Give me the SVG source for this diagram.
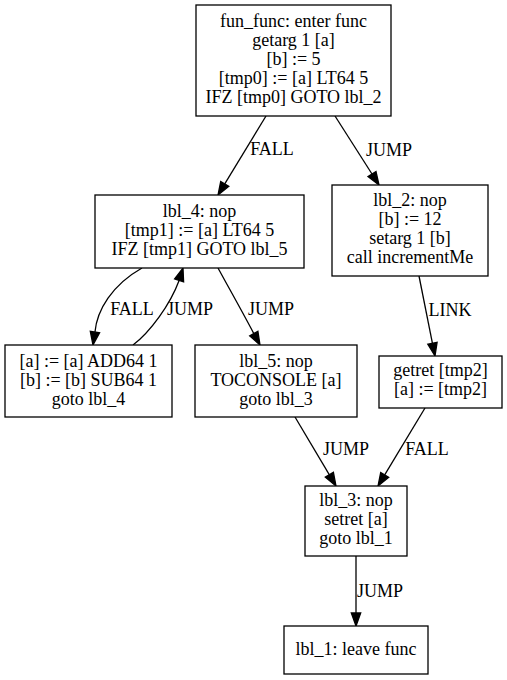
<svg xmlns="http://www.w3.org/2000/svg" width="507" height="680" viewBox="0 0 507 680">
<style>
.n rect{fill:#fff;stroke:#000;stroke-width:1.3}
text{font-family:"Liberation Serif","Times New Roman",serif;font-size:18px;fill:#000;text-anchor:middle}
.e path{fill:none;stroke:#000;stroke-width:1.3}
.e polygon{fill:#000;stroke:#000;stroke-width:1.3}
</style>
<rect width="507" height="680" fill="#fff"/>
<g id="connectors" class="e">
<path d="M266,116 L224.75,183.9"/><polygon points="218,195 228.8,186.3 220.7,181.5"/>
<text x="272" y="155">FALL</text>
<path d="M335,116 L372,174"/><polygon points="379,185 368,176.6 376,171.5"/>
<text x="389" y="156">JUMP</text>
<path d="M142,268 C112,285 97,310 94.95,332.1"/><polygon points="93,345 99.6,332.8 90.3,331.4"/>
<text x="132" y="315">FALL</text>
<path d="M133,345 C150,332 170,305 179.1,280.4"/><polygon points="183,268 183.6,281.8 174.6,279"/>
<text x="190" y="315">JUMP</text>
<path d="M218,268 C230,290 243,313 253.8,333.6"/><polygon points="260,345 249.7,335.9 257.9,331.3"/>
<text x="271" y="315">JUMP</text>
<path d="M419,276 L432.45,343.3"/><polygon points="435,356 427.8,344.2 437.1,342.3"/>
<text x="450" y="316">LINK</text>
<path d="M295,417 L329.4,474.8"/><polygon points="336,486 325.3,477.2 333.4,472.4"/>
<text x="346" y="455">JUMP</text>
<path d="M425,408 L384.7,474.9"/><polygon points="378,486 388.7,477.3 380.7,472.5"/>
<text x="427" y="455">FALL</text>
<path d="M356,556 L356,613"/><polygon points="356,626 351.3,613 360.7,613"/>
<text x="380" y="597">JUMP</text>
</g>
<g id="fun_func" class="n">
<rect x="196" y="5" width="195" height="111"/>
<text x="293.5" y="27">fun_func: enter func</text>
<text x="293.5" y="46">getarg 1 [a]</text>
<text x="293.5" y="65">[b] := 5</text>
<text x="293.5" y="84">[tmp0] := [a] LT64 5</text>
<text x="293.5" y="103">IFZ [tmp0] GOTO lbl_2</text>
</g>
<g id="lbl_4" class="n">
<rect x="95" y="195" width="209" height="73"/>
<text x="199.5" y="217">lbl_4: nop</text>
<text x="199.5" y="236">[tmp1] := [a] LT64 5</text>
<text x="199.5" y="255">IFZ [tmp1] GOTO lbl_5</text>
</g>
<g id="lbl_2" class="n">
<rect x="332" y="185" width="156" height="91"/>
<text x="410" y="206">lbl_2: nop</text>
<text x="410" y="225">[b] := 12</text>
<text x="410" y="244">setarg 1 [b]</text>
<text x="410" y="263">call incrementMe</text>
</g>
<g id="loop_body" class="n">
<rect x="5" y="345" width="167" height="72"/>
<text x="88.5" y="367">[a] := [a] ADD64 1</text>
<text x="88.5" y="386">[b] := [b] SUB64 1</text>
<text x="88.5" y="405">goto lbl_4</text>
</g>
<g id="lbl_5" class="n">
<rect x="195" y="345" width="162" height="72"/>
<text x="276" y="367">lbl_5: nop</text>
<text x="276" y="386">TOCONSOLE [a]</text>
<text x="276" y="405">goto lbl_3</text>
</g>
<g id="getret" class="n">
<rect x="379" y="356" width="123" height="52"/>
<text x="440.5" y="376">getret [tmp2]</text>
<text x="440.5" y="395">[a] := [tmp2]</text>
</g>
<g id="lbl_3" class="n">
<rect x="305" y="486" width="102" height="70"/>
<text x="356" y="506">lbl_3: nop</text>
<text x="356" y="525">setret [a]</text>
<text x="356" y="544">goto lbl_1</text>
</g>
<g id="lbl_1" class="n">
<rect x="284" y="626" width="144" height="48"/>
<text x="356" y="655">lbl_1: leave func</text>
</g>
</svg>
